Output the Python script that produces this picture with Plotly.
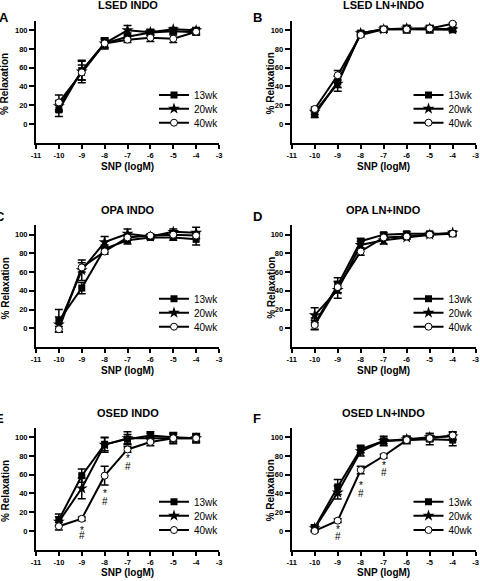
import plotly.graph_objects as go
from plotly.subplots import make_subplots

# ---------------- data ----------------
x_logm = [-10, -9, -8, -7, -6, -5, -4]
groups = ["13wk", "20wk", "40wk"]
panel_titles = ["LSED INDO", "LSED LN+INDO", "OPA INDO", "OPA LN+INDO", "OSED INDO", "OSED LN+INDO"]
panel_letters = ["A", "B", "C", "D", "E", "F"]

# Panel A: LSED INDO
A_13 = [15, 57, 86, 93, 97.5, 99, 98]
A_20 = [19, 56, 86, 100, 98, 101, 100]
A_40 = [23, 55, 86, 90, 92, 91, 98.5]
A_13e = [7, 10, 5, 4, 3, 2, 3]
A_20e = [6, 12, 4, 5, 3, 2, 3]
A_40e = [8, 8, 6, 3, 4, 4, 3]

# Panel B: LSED LN+INDO
B_13 = [10, 45, 97, 101, 101, 101, 100.5]
B_20 = [13, 43, 97, 101, 102, 102, 101]
B_40 = [16, 52, 95, 101, 101, 102, 107]
B_13e = [3, 6, 2, 3, 4, 4, 2]
B_20e = [3, 8, 2, 3, 3, 3, 2]
B_40e = [2, 5, 2, 2, 2, 2, 1]

# Panel C: OPA INDO
C_13 = [8, 43, 85, 94, 97, 97, 95]
C_20 = [4, 62, 92, 101, 98, 103, 102]
C_40 = [-1, 65, 82, 97, 99, 100, 99]
C_13e = [12, 6, 4, 4, 2, 3, 6]
C_20e = [8, 11, 6, 5, 2, 3, 6]
C_40e = [3, 5, 3, 3, 2, 3, 3]

# Panel D: OPA LN+INDO
D_13 = [5, 46, 93, 100, 101, 101, 101]
D_20 = [14, 41, 89, 94, 97, 100, 102]
D_40 = [3.5, 44, 82, 97, 98, 100, 101]
D_13e = [6, 8, 3, 2, 2, 2, 2]
D_20e = [8, 9, 4, 4, 2, 2, 2]
D_40e = [5, 6, 4, 2, 2, 2, 2]

# Panel E: OSED INDO
E_13 = [12, 59, 92.5, 98, 102, 100, 99]
E_20 = [10, 45.5, 92, 99, 99, 99, 99]
E_40 = [5, 13, 59, 87, 95, 99, 99]
E_13e = [6, 7, 7, 5, 4, 4, 5]
E_20e = [5, 11, 8, 7, 5, 6, 4]
E_40e = [4, 2, 10, 3, 4, 4, 3]

# Panel F: OSED LN+INDO
F_13 = [3.5, 47, 87.5, 96, 97, 98, 97]
F_20 = [3, 41, 85, 96, 98, 100, 101]
F_40 = [0, 11, 65, 80, 97, 99, 102]
F_13e = [3, 8, 4, 5, 4, 6, 6]
F_20e = [3, 7, 5, 3, 3, 4, 4]
F_40e = [1, 2, 4, 2, 2, 3, 4]

# significance marks (40wk vs others) in panels E and F
sig_x = [-9, -8, -7]
E_star_y = [3, 42, 79]
E_hash_y = [-5, 31, 69]
F_star_y = [3.5, 50.5, 72]
F_hash_y = [-5.5, 40, 62.5]

x_ticks = [-11, -10, -9, -8, -7, -6, -5, -4, -3]
y_ticks = [0, 20, 40, 60, 80, 100]

panels = [
    (A_13, A_20, A_40, A_13e, A_20e, A_40e),
    (B_13, B_20, B_40, B_13e, B_20e, B_40e),
    (C_13, C_20, C_40, C_13e, C_20e, C_40e),
    (D_13, D_20, D_40, D_13e, D_20e, D_40e),
    (E_13, E_20, E_40, E_13e, E_20e, E_40e),
    (F_13, F_20, F_40, F_13e, F_20e, F_40e),
]

# ---------------- layout geometry ----------------
W, H = 480, 581
col_dom = [[36 / W, 219 / W], [291.7 / W, 475.7 / W]]
row_px = [(20.9, 142.7), (225.3, 347.0), (427.9, 549.7)]
row_dom = [[1 - b / H, 1 - t / H] for (t, b) in row_px]

FONT = "Liberation Sans, Arial, sans-serif"

fig = make_subplots(rows=3, cols=2)

markers = [
    dict(symbol="square", size=7, color="black", line=dict(width=0)),
    dict(symbol="star", size=9, color="black", line=dict(width=0)),
    dict(symbol="circle", size=7, color="white", line=dict(color="black", width=1)),
]

legend_rows_px = [(95, 108.7, 122.7), (298.7, 312.7, 326.7), (501.7, 515.7, 530)]
legend_text_x = [195.5, 450]

legend_layouts = {}
leg_n = 0
for p, data in enumerate(panels):
    r, c = p // 2, p % 2
    vals = data[:3]
    errs = data[3:]
    for g in range(3):
        leg_n += 1
        lname = "legend" if leg_n == 1 else f"legend{leg_n}"
        fig.add_trace(
            go.Scatter(
                x=x_logm, y=vals[g], name=groups[g], mode="lines+markers",
                line=dict(color="black", width=2),
                marker=markers[g],
                error_y=dict(type="data", array=errs[g], visible=True,
                             color="black", thickness=1.5, width=4),
                cliponaxis=False, legend=lname, showlegend=True,
            ),
            row=r + 1, col=c + 1,
        )
        ypx = legend_rows_px[r][g]
        legend_layouts[lname] = dict(
            x=(legend_text_x[c] - 41.5) / W, y=1 - ypx / H,
            xref="container", yref="container",
            xanchor="left", yanchor="middle",
            bgcolor="rgba(0,0,0,0)", borderwidth=0,
            font=dict(family=FONT, size=10, color="black"),
            itemwidth=30,
        )

fig.update_layout(**legend_layouts)

for p in range(6):
    r, c = p // 2, p % 2
    idx = p + 1
    xa = "xaxis" if idx == 1 else f"xaxis{idx}"
    ya = "yaxis" if idx == 1 else f"yaxis{idx}"
    fig.layout[xa].update(
        domain=col_dom[c], range=[-11, -3], tickvals=x_ticks,
        ticktext=[str(v) for v in x_ticks],
        showline=True, linecolor="black", linewidth=2, mirror=False,
        ticks="outside", ticklen=4, tickwidth=1.5, tickcolor="black",
        showgrid=False, zeroline=False, automargin=False,
        tickfont=dict(family=FONT, size=7.5, color="black", weight="bold"),
    )
    fig.layout[ya].update(
        domain=row_dom[r], range=[-20, 110], tickvals=y_ticks,
        showline=True, linecolor="black", linewidth=2, mirror=False,
        ticks="outside", ticklen=5, tickwidth=1.5, tickcolor="black",
        showgrid=False, zeroline=False, automargin=False,
        tickfont=dict(family=FONT, size=7.5, color="black", weight="bold"),
    )

annotations = []
title_y_px = [5, 210, 412.5]
letter_y_px = [17.5, 216.5, 418.5]
letter_x_px = [[-3.5, 251], [-7.4, 251], [-7.4, 251]]
ytitle_x_px = [5.3, 270.7]
xtitle_y_px = [166, 371, 572]
for p in range(6):
    r, c = p // 2, p % 2
    xmid = (col_dom[c][0] + col_dom[c][1]) / 2
    annotations.append(dict(text=panel_titles[p], x=xmid, y=1 - title_y_px[r] / H,
                            xref="paper", yref="paper", showarrow=False,
                            xanchor="center", yanchor="middle",
                            font=dict(family=FONT, size=11, color="black", weight="bold")))
    annotations.append(dict(text=panel_letters[p], x=letter_x_px[r][c] / W, y=1 - letter_y_px[r] / H,
                            xref="paper", yref="paper", showarrow=False,
                            xanchor="left", yanchor="middle",
                            font=dict(family=FONT, size=13, color="black", weight="bold")))
    annotations.append(dict(text="% Relaxation", x=ytitle_x_px[c] / W,
                            y=(row_dom[r][0] + row_dom[r][1]) / 2 - 2 / H,
                            xref="paper", yref="paper", showarrow=False, textangle=-90,
                            xanchor="center", yanchor="middle",
                            font=dict(family=FONT, size=10, color="black", weight="bold")))
    annotations.append(dict(text="SNP (logM)", x=xmid, y=1 - xtitle_y_px[r] / H,
                            xref="paper", yref="paper", showarrow=False,
                            xanchor="center", yanchor="middle",
                            font=dict(family=FONT, size=10, color="black", weight="bold")))

for idx, sy, hy in [(5, E_star_y, E_hash_y), (6, F_star_y, F_hash_y)]:
    for xv, s_y, h_y in zip(sig_x, sy, hy):
        annotations.append(dict(text="*", x=xv, y=s_y, xref=f"x{idx}", yref=f"y{idx}",
                                showarrow=False, xanchor="center", yanchor="middle", yshift=-2,
                                font=dict(family=FONT, size=10, color="black")))
        annotations.append(dict(text="#", x=xv, y=h_y, xref=f"x{idx}", yref=f"y{idx}",
                                showarrow=False, xanchor="center", yanchor="middle",
                                font=dict(family=FONT, size=10, color="black")))

fig.update_layout(
    width=W, height=H, margin=dict(l=0, r=0, t=0, b=0, autoexpand=False),
    paper_bgcolor="white", plot_bgcolor="white",
    annotations=annotations,
    font=dict(family=FONT, color="black"),
)

fig.write_html("out.html", config={"displayModeBar": False},
               post_script="document.body.style.margin='0';document.body.style.padding='0';")
